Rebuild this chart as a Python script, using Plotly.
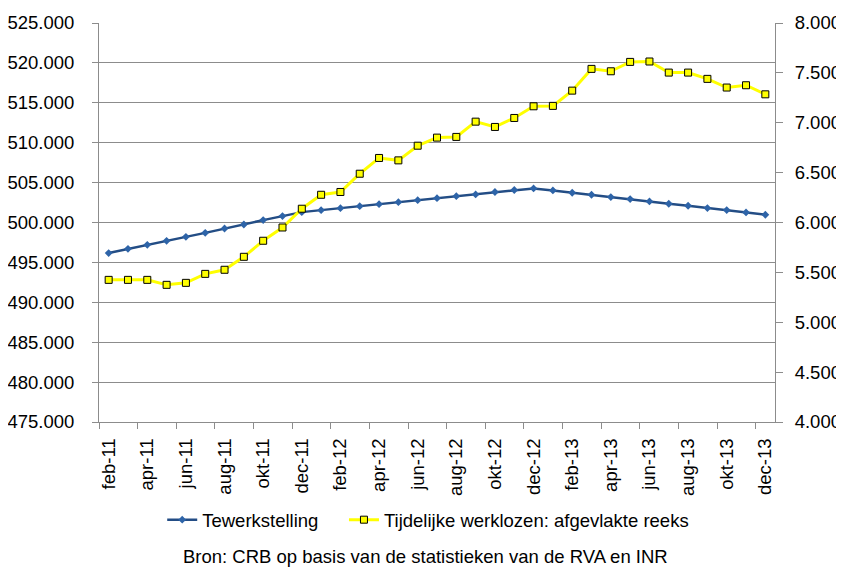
import plotly.graph_objects as go

months = [
    "feb-11", "mrt-11", "apr-11", "mei-11", "jun-11", "jul-11", "aug-11", "sep-11", "okt-11", "nov-11", "dec-11",
    "jan-12", "feb-12", "mrt-12", "apr-12", "mei-12", "jun-12", "jul-12", "aug-12", "sep-12", "okt-12", "nov-12", "dec-12",
    "jan-13", "feb-13", "mrt-13", "apr-13", "mei-13", "jun-13", "jul-13", "aug-13", "sep-13", "okt-13", "nov-13", "dec-13",
]

tewerkstelling = [
    496170, 496700, 497200, 497700, 498200, 498700, 499250, 499750, 500300, 500800, 501300,
    501550, 501800, 502050, 502300, 502550, 502800, 503050, 503300, 503520, 503820, 504070, 504270,
    504020, 503730, 503480, 503190, 502940, 502640, 502350, 502100, 501810, 501560, 501260, 500970,
]

tijdelijke_werklozen = [
    5425, 5425, 5425, 5375, 5395, 5485, 5526, 5656, 5817, 5950, 6138,
    6278, 6306, 6489, 6647, 6623, 6770, 6851, 6858, 7011, 6958, 7048, 7165,
    7169, 7322, 7540, 7516, 7610, 7614, 7503, 7503, 7440, 7353, 7376, 7285,
]

FONT = "Liberation Sans Narrow, Arial Narrow, Liberation Sans, Arial, sans-serif"
FS = 18.5
GRID = "#8c8c8c"

fig = go.Figure()
fig.add_trace(go.Scatter(
    x=months, y=tewerkstelling, name="Tewerkstelling\u00a0\u00a0\u00a0\u00a0", mode="lines+markers",
    line=dict(color="#234D85", width=2.5),
    marker=dict(symbol="diamond", size=6, color="#2E64A8"),
    yaxis="y",
))
fig.add_trace(go.Scatter(
    x=months, y=tijdelijke_werklozen, name="Tijdelijke werklozen: afgevlakte reeks", mode="lines+markers",
    line=dict(color="#FFFF00", width=3),
    marker=dict(symbol="square", size=7, color="#FFFF00", line=dict(color="#000000", width=1)),
    yaxis="y2",
))

# page body adds an 8px offset, so the figure is sized to fit the 844x567 window
fig.update_layout(
    width=836, height=559,
    margin=dict(l=91, r=69, t=15, b=145, autoexpand=False),
    paper_bgcolor="white", plot_bgcolor="white",
    font=dict(family=FONT, size=FS, color="#000000"),
    separators=",.",
    showlegend=True,
    legend=dict(orientation="h", x=0.487, xanchor="center", y=-0.246, yanchor="middle",
                font=dict(size=FS), itemwidth=30, bgcolor="rgba(0,0,0,0)"),
    xaxis=dict(
        type="category", tickmode="linear", dtick=2, tick0=0, automargin=False,
        tickangle=-90, tickson="boundaries", ticks="outside", ticklen=6, tickcolor=GRID,
        showline=True, linecolor=GRID, linewidth=1, showgrid=False,
        range=[-0.5, 34.5], tickfont=dict(size=FS), ticklabelstandoff=8,
    ),
    yaxis=dict(
        range=[475000, 525000], dtick=5000, tick0=475000, tickformat=",.0f", automargin=False,
        showgrid=True, gridcolor=GRID, gridwidth=1,
        showline=True, linecolor=GRID, linewidth=1,
        ticks="outside", ticklen=6, tickcolor=GRID, zeroline=False,
        tickfont=dict(size=FS), ticklabelstandoff=14,
    ),
    yaxis2=dict(
        range=[4000, 8000], dtick=500, tick0=4000, tickformat=",.0f", automargin=False,
        overlaying="y", side="right", showgrid=False,
        showline=True, linecolor=GRID, linewidth=1,
        ticks="outside", ticklen=7, tickcolor=GRID, zeroline=False,
        tickfont=dict(size=FS), ticklabelstandoff=8,
    ),
    annotations=[dict(
        text="Bron: CRB op basis van de statistieken van de RVA en INR",
        xref="paper", yref="paper", x=0.4826, y=-0.336, xanchor="center", yanchor="middle",
        showarrow=False, font=dict(size=FS, family=FONT),
    )],
)

fig.write_html("out.html")
